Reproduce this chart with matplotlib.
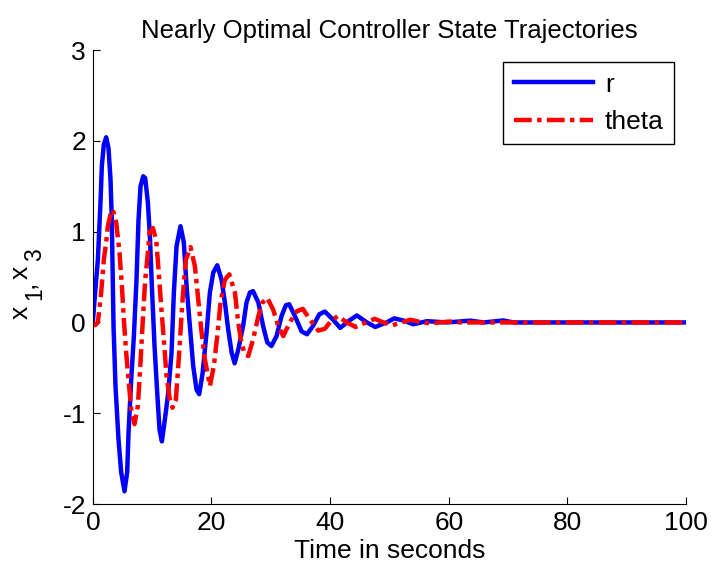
import matplotlib
matplotlib.use("Agg")
import matplotlib.pyplot as plt

plt.rcParams["font.family"] = ["Liberation Sans", "DejaVu Sans"]
plt.rcParams["axes.unicode_minus"] = False

# values
r_t = [0, 0.39, 0.85, 1.29, 1.52, 1.85, 2.25, 2.64, 2.98, 3.2, 3.49, 3.82, 4.33, 4.78,
       5.34, 5.79, 6.02, 6.47, 6.92, 7.36, 7.7, 8.04, 8.49, 8.83, 9.28, 9.62, 9.95,
       10.4, 10.85, 11.24, 11.64, 12.14, 12.7, 13.27, 13.66, 14.11, 14.78, 15.34, 15.8,
       16.36, 16.92, 17.48, 17.93, 18.5, 19.17, 19.73, 20.3, 20.97, 21.7, 22.26, 22.82,
       23.39, 23.9, 24.51, 25.35, 25.9, 26.48, 27.0, 27.9, 28.7, 29.4, 30.1, 30.97,
       31.8, 32.55, 33.1, 34.06, 35.2, 36.1, 37.1, 38.17, 39.1, 40.5, 41.7, 43.1, 44.5,
       46.2, 47.6, 49.5, 50.8, 52.4, 54.0, 56.3, 59.7, 63.6, 65.9, 69.2, 70.9, 100]
r_y = [0, 0.33, 0.69, 1.32, 1.72, 1.96, 2.04, 1.92, 1.58, 1.13, -0.04, -0.70, -1.29, -1.65,
       -1.86, -1.65, -1.21, -0.63, -0.15, 0.47, 1.13, 1.5, 1.61, 1.59, 1.32, 0.95, 0.4,
       -0.26, -0.77, -1.18, -1.31, -1.07, -0.78, -0.33, 0.33, 0.84, 1.06, 0.88, 0.4,
       -0.04, -0.48, -0.74, -0.79, -0.56, -0.11, 0.33, 0.55, 0.63, 0.47, 0.22, -0.08,
       -0.33, -0.45, -0.30, -0.03, 0.22, 0.33, 0.345, 0.22, -0.04, -0.22, -0.26, -0.15,
       0.07, 0.19, 0.2, 0.07, -0.10, -0.13, -0.04, 0.09, 0.12, 0.03, -0.06, 0.015, 0.077,
       0.0, -0.05, 0.0, 0.045, 0.02, -0.02, 0.014, 0.0, 0.02, 0.0, 0.022, 0.0, 0.0]

theta_t = [0, 0.4, 0.85, 1.41, 1.85, 2.25, 2.53, 2.98, 3.37, 3.94, 4.5, 4.9, 5.23, 5.62,
           6.02, 6.47, 7.03, 7.59, 8.04, 8.43, 8.83, 9.28, 9.56, 10.12, 10.68, 11.08,
           11.52, 11.97, 12.42, 12.98, 13.43, 14.0, 14.56, 15.12, 15.68, 16.47, 17.2,
           17.77, 18.33, 18.9, 19.73, 20.4, 20.97, 21.53, 22.26, 23.0, 23.95, 24.5,
           25.07, 25.63, 26.2, 27.0, 27.9, 28.6, 29.4, 30.4, 31.25, 32.1, 33.2, 34.3,
           35.4, 36.6, 38.0, 39.1, 40.2, 41.3, 42.8, 44.3, 46.0, 47.5, 49.0, 50.5, 52.0,
           53.5, 55.5, 57.0, 60.0, 62.0, 100]
theta_y = [0, -0.03, 0.0, 0.33, 0.69, 0.88, 1.06, 1.19, 1.24, 1.1, 0.77, 0.4, 0.03, -0.33,
           -0.63, -0.96, -1.12, -0.92, -0.44, 0.03, 0.47, 0.77, 0.99, 1.04, 0.91, 0.58,
           0.18, -0.19, -0.59, -0.85, -0.94, -0.85, -0.33, 0.25, 0.69, 0.83, 0.62,
           0.25, -0.11, -0.41, -0.7, -0.48, -0.15, 0.22, 0.47, 0.53, 0.33, 0.0,
           -0.23, -0.35, -0.37, -0.19, 0.07, 0.22, 0.27, 0.14, -0.04, -0.15, 0.0, 0.12,
           0.15, 0.03, -0.09, -0.07, 0.02, 0.07, 0.0, -0.05, 0.0, 0.04, 0.0, -0.03, 0.0,
           0.03, 0.0, -0.01, 0.01, 0.0, 0.0]

x_ticks = [0, 20, 40, 60, 80, 100]
y_ticks = [-2, -1, 0, 1, 2, 3]

FS = 19
W, H = 714, 576

fig = plt.figure(figsize=(W / 100, H / 100), dpi=100)
ax = fig.add_axes([0.130, 0.125, 0.831, 0.788])

ax.plot(r_t, r_y, color="#0000ff", lw=3.2, label="r", solid_joinstyle="round")
ax.plot(theta_t, theta_y, color="#ff0000", lw=3.2, label="theta",
        dashes=(4, 1.2, 1, 1.2), dash_capstyle="butt")

ax.set_xlim(0, 100)
ax.set_ylim(-2, 3)
ax.set_xticks(x_ticks)
ax.set_yticks(y_ticks)
ax.tick_params(direction="in", length=5, width=0.8, labelsize=FS, pad=5)
for side in ["top", "right"]:
    ax.spines[side].set_visible(False)
for side in ["left", "bottom"]:
    ax.spines[side].set_linewidth(0.8)

ax.set_xlabel("Time in seconds", fontsize=FS, labelpad=3)
ax.set_title("Nearly Optimal Controller State Trajectories", fontsize=18.5, pad=9)

# y label "x1,x3" with MATLAB-style big, low subscripts, built piece by piece
# (text, baseline x px, start y px, size)
for s, px, py, size in [("x", 28, 319, FS), ("1", 41, 300, 16.5), (",", 34, 288, FS),
                        ("x", 28, 279, FS), ("3", 41, 261, 16.5)]:
    fig.text(px / W, 1 - py / H, s, fontsize=size, rotation=90,
             rotation_mode="anchor", ha="left", va="baseline")

leg = ax.legend(loc="upper right", fontsize=FS, handlelength=3.0, handletextpad=0.45,
                borderaxespad=0.45, fancybox=False, framealpha=1, edgecolor="black")
leg.get_frame().set_linewidth(1.0)

fig.savefig("out.png", dpi=100)
